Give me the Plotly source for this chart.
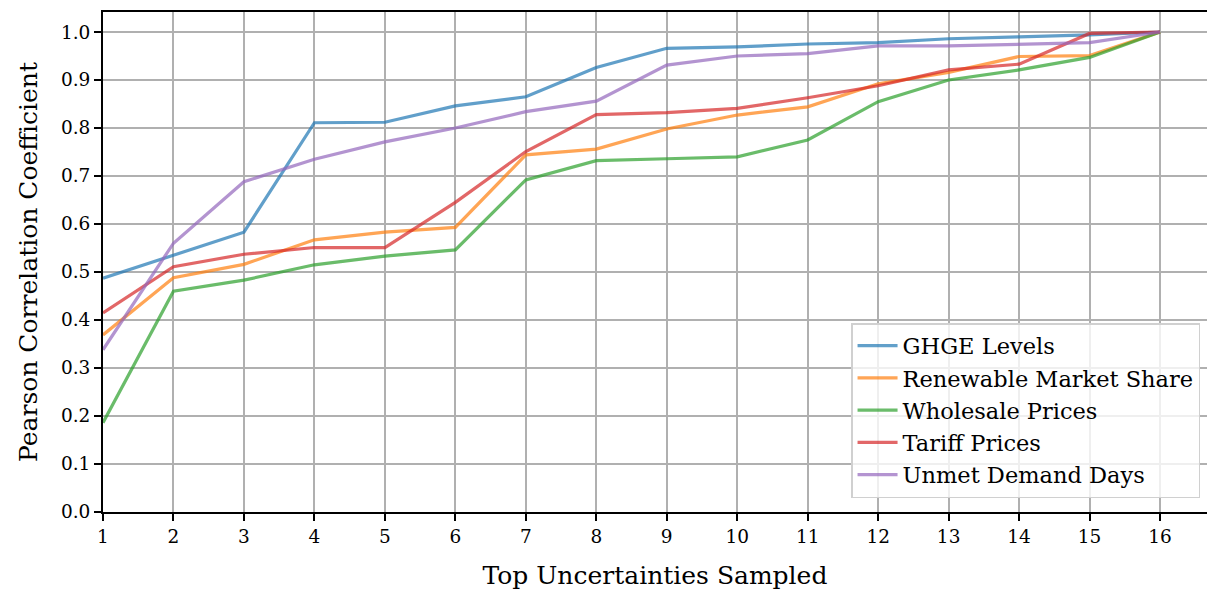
import plotly.graph_objects as go

x_vals = list(range(1, 17))

ghge = [0.487, 0.535, 0.583, 0.811, 0.812, 0.846, 0.865, 0.926, 0.966, 0.969, 0.975, 0.978, 0.986, 0.990, 0.994, 1.0]
renewable = [0.369, 0.488, 0.516, 0.567, 0.583, 0.593, 0.744, 0.756, 0.798, 0.827, 0.844, 0.892, 0.916, 0.949, 0.951, 1.0]
wholesale = [0.186, 0.460, 0.483, 0.515, 0.533, 0.546, 0.692, 0.732, 0.736, 0.740, 0.775, 0.855, 0.900, 0.921, 0.947, 1.0]
tariff = [0.415, 0.511, 0.537, 0.551, 0.551, 0.645, 0.751, 0.828, 0.832, 0.841, 0.863, 0.888, 0.921, 0.933, 0.997, 1.0]
unmet = [0.338, 0.560, 0.688, 0.735, 0.771, 0.800, 0.834, 0.856, 0.931, 0.950, 0.955, 0.971, 0.971, 0.974, 0.978, 1.0]

series_names = ["GHGE Levels", "Renewable Market Share", "Wholesale Prices", "Tariff Prices", "Unmet Demand Days"]
series_values = [ghge, renewable, wholesale, tariff, unmet]
colors = ["#1f77b4", "#ff7f0e", "#2ca02c", "#d62728", "#9467bd"]

y_ticks = [0.0, 0.1, 0.2, 0.3, 0.4, 0.5, 0.6, 0.7, 0.8, 0.9, 1.0]

FONT = "DejaVu Serif"

fig = go.Figure()
for name, vals, c in zip(series_names, series_values, colors):
    fig.add_trace(go.Scatter(x=x_vals, y=vals, mode="lines", name=name,
                             line=dict(color=c, width=3.2), opacity=0.7))

fig.update_layout(
    width=1207, height=594,
    margin=dict(l=103, r=0, t=12, b=82),
    plot_bgcolor="white", paper_bgcolor="white",
    font=dict(family=FONT, size=19, color="black"),
    legend=dict(
        x=0.9937, y=0.028, xanchor="right", yanchor="bottom",
        bgcolor="rgba(255,255,255,0.8)", bordercolor="#d0d0d0", borderwidth=1.5,
        font=dict(family=FONT, size=22.5), itemwidth=40,
        tracegroupgap=0,
    ),
    xaxis=dict(
        range=[1, 1 + 1104 / 70.47], tickmode="array", tickvals=x_vals,
        ticktext=[str(v) for v in x_vals],
        showgrid=True, gridcolor="#b0b0b0", gridwidth=1.6,
        showline=True, linecolor="black", linewidth=2, mirror=True,
        ticks="outside", ticklen=7, tickwidth=1.6, tickcolor="black",
        zeroline=False,
        title=dict(text="Top Uncertainties Sampled", font=dict(size=25), standoff=20),
        tickfont=dict(size=18.5),
    ),
    yaxis=dict(
        range=[0, 1.0417], tickmode="array", tickvals=y_ticks,
        ticktext=[f"{v:.1f}" for v in y_ticks],
        showgrid=True, gridcolor="#b0b0b0", gridwidth=1.6,
        showline=True, linecolor="black", linewidth=2,
        ticks="outside", ticklen=7, tickwidth=1.6, tickcolor="black",
        zeroline=False,
        title=dict(text="Pearson Correlation Coefficient", font=dict(size=25), standoff=16),
        tickfont=dict(size=18.5),
    ),
)

fig.write_html("out.html")
